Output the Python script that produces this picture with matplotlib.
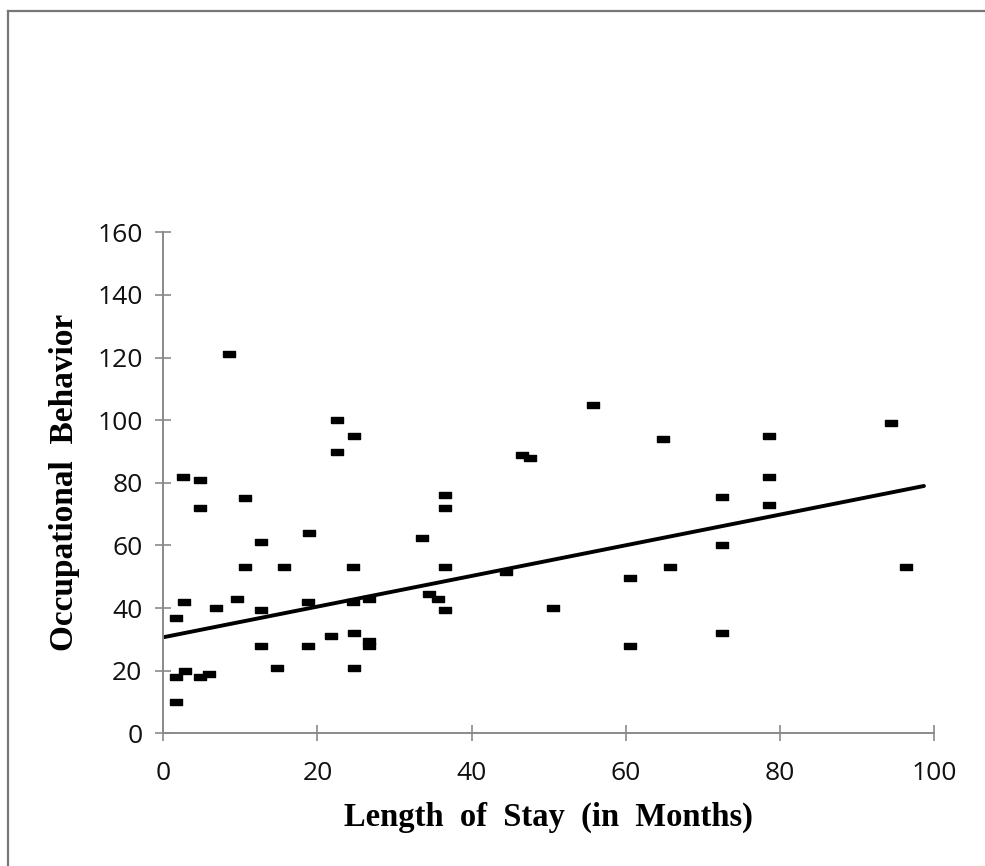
"""
Occupational behavior vs. length of stay — scatter with fitted trend line.
"""

import matplotlib
matplotlib.use("Agg")
import matplotlib.pyplot as plt
from matplotlib.lines import Line2D

# ---------------------------------------------------------------------------
# Data
# ---------------------------------------------------------------------------

stay_months = [
    8.5, 22.6, 24.7, 22.6, 2.6, 4.8, 10.6, 4.8, 18.9, 12.7,
    10.6, 15.7, 24.6, 2.7, 9.5, 6.8, 12.7, 18.8, 24.6, 26.7,
    1.7, 21.7, 24.7, 12.7, 18.8, 26.7, 26.7, 14.8, 24.7, 2.8,
    1.7, 4.8, 5.9, 1.7, 55.8, 64.8, 46.5, 47.6, 36.6, 36.6,
    33.6, 36.6, 65.7, 44.5, 60.6, 34.5, 35.7, 36.6, 50.6, 60.6,
    94.4, 78.6, 78.6, 72.5, 78.6, 72.5, 96.4, 72.5,
]
occ_behavior = [
    121, 100, 95, 90, 82, 81, 75, 72, 64, 61,
    53, 53, 53, 42, 43, 40, 39.5, 42, 42, 43,
    37, 31, 32, 28, 28, 29.5, 28, 21, 21, 20,
    18, 18, 19, 10, 105, 94, 89, 88, 76, 72,
    62.5, 53, 53, 51.5, 49.6, 44.5, 43, 39.5, 40, 28,
    99, 95, 82, 75.5, 73, 60, 53, 32,
]

# fitted regression line end points
fit_x = [0, 98.7]
fit_y = [30.7, 79.0]

x_ticks = [0, 20, 40, 60, 80, 100]
y_ticks = [0, 20, 40, 60, 80, 100, 120, 140, 160]

# ---------------------------------------------------------------------------
# Chart
# ---------------------------------------------------------------------------

AXIS_GREY = "#8a8a8a"
TICK_FONT = "Open Sans"
LABEL_FONT = "Liberation Serif"

fig = plt.figure(figsize=(9.85, 8.66), dpi=100)
fig.patch.set_facecolor("white")
ax = fig.add_axes([0.1658, 0.1531, 0.7824, 0.5787])

# short horizontal dash marker
dash = [(-1, -0.5), (1, -0.5), (1, 0.5), (-1, 0.5), (-1, -0.5)]
ax.plot(stay_months, occ_behavior, linestyle="none", marker=dash,
        markersize=8, color="black", zorder=3, clip_on=False)
ax.plot(fit_x, fit_y, color="black", lw=2.8, solid_capstyle="round", zorder=2)

ax.set_xlim(0, 100)
ax.set_ylim(0, 160)
ax.set_xticks(x_ticks)
ax.set_yticks(y_ticks)

for side in ("top", "right"):
    ax.spines[side].set_visible(False)
for side in ("left", "bottom"):
    ax.spines[side].set_color(AXIS_GREY)
    ax.spines[side].set_linewidth(1.4)

ax.tick_params(direction="inout", length=12, width=1.2, color=AXIS_GREY,
               labelsize=19, labelcolor="#111111")
ax.tick_params(axis="y", pad=9)
ax.tick_params(axis="x", pad=14)
for lbl in ax.get_xticklabels() + ax.get_yticklabels():
    lbl.set_family(TICK_FONT)

ax.set_xlabel("Length  of  Stay  (in  Months)", family=LABEL_FONT,
              fontweight="bold", fontsize=23.5, labelpad=11)
ax.set_ylabel("Occupational  Behavior", family=LABEL_FONT,
              fontweight="bold", fontsize=24, labelpad=12)

# scanned page frame: left and top edges
fig.add_artist(Line2D([0.008, 0.008], [0.0, 0.987], color="#777777", lw=1.6))
fig.add_artist(Line2D([0.008, 1.0], [0.987, 0.987], color="#777777", lw=1.6))

fig.savefig("out.png", dpi=100, facecolor="white")
